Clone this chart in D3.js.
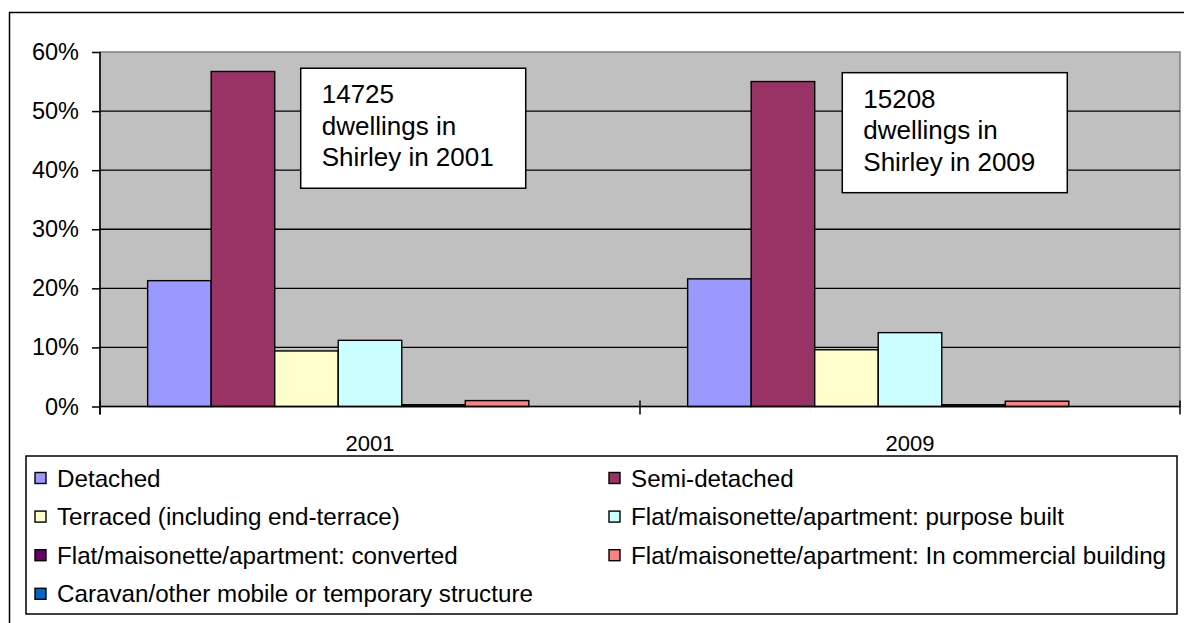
<!DOCTYPE html>
<html>
<head>
<meta charset="utf-8">
<script src="https://cdn.jsdelivr.net/npm/d3@7/dist/d3.min.js"></script>
<style>
  html, body { margin: 0; padding: 0; background: #fff; }
  svg { display: block; }
  text { font-family: "Liberation Sans", Arial, sans-serif; fill: #000; }
</style>
</head>
<body>
<svg id="chart" width="1184" height="623"></svg>
<script>
// ---- data ----
const years = ["2001", "2009"];
const seriesNames = [
  "Detached",
  "Semi-detached",
  "Terraced (including end-terrace)",
  "Flat/maisonette/apartment: purpose built",
  "Flat/maisonette/apartment: converted",
  "Flat/maisonette/apartment: In commercial building",
  "Caravan/other mobile or temporary structure"
];
const values2001 = [0.213, 0.567, 0.094, 0.112, 0.003, 0.010, 0.000];
const values2009 = [0.216, 0.550, 0.096, 0.125, 0.003, 0.009, 0.000];
const seriesColors = ["#9999FF", "#993366", "#FFFFCC", "#CCFFFF", "#660066", "#FF8080", "#0066CC"];
const yTicks = [0, 0.1, 0.2, 0.3, 0.4, 0.5, 0.6];
const annotationLines2001 = ["14725", "dwellings in", "Shirley in 2001"];
const annotationLines2009 = ["15208", "dwellings in", "Shirley in 2009"];

const valuesByYear = [values2001, values2009];
const annotations = [annotationLines2001, annotationLines2009];

// ---- layout ----
const svg = d3.select("#chart");
const plot = { left: 100, right: 1180, top: 52, bottom: 406.5 };

svg.append("rect").attr("x", 0).attr("y", 0).attr("width", 1184).attr("height", 623).attr("fill", "#fff");
// outer chart border (right and bottom edges fall outside the picture)
svg.append("rect").attr("x", 9.5).attr("y", 12.5).attr("width", 1200).attr("height", 640)
  .attr("fill", "none").attr("stroke", "#000").attr("stroke-width", 1.5);

const x0 = d3.scaleBand().domain(years).range([plot.left, plot.right]).paddingInner(0).paddingOuter(0);
const x1 = d3.scaleBand().domain(d3.range(seriesNames.length)).range([0, x0.bandwidth()])
  .paddingInner(0).paddingOuter(0.75);
const y = d3.scaleLinear().domain([0, 0.6]).range([plot.bottom, plot.top]);

// plot background
svg.append("rect").attr("x", plot.left).attr("y", plot.top)
  .attr("width", plot.right - plot.left).attr("height", plot.bottom - plot.top)
  .attr("fill", "#C0C0C0").attr("stroke", "#808080").attr("stroke-width", 1.5);

// gridlines
svg.append("g").selectAll("line").data(yTicks.filter(t => t > 0 && t < 0.6)).join("line")
  .attr("x1", plot.left).attr("x2", plot.right)
  .attr("y1", d => y(d)).attr("y2", d => y(d))
  .attr("stroke", "#000").attr("stroke-width", 1.4);

// bars
const groups = svg.append("g").selectAll("g").data(years).join("g")
  .attr("transform", d => `translate(${x0(d)},0)`);
groups.selectAll("rect").data((d, i) => valuesByYear[i].map((v, k) => ({ v, k })))
  .join("rect")
  .attr("x", d => x1(d.k))
  .attr("width", x1.bandwidth())
  .attr("y", d => y(d.v))
  .attr("height", d => y(0) - y(d.v))
  .attr("fill", d => seriesColors[d.k])
  .attr("stroke", "#000").attr("stroke-width", 1.4);

// y axis
const yAxis = d3.axisLeft(y).tickValues(yTicks).tickFormat(d3.format(".0%")).tickSize(8).tickPadding(13);
const gy = svg.append("g").attr("transform", `translate(${plot.left},0)`).call(yAxis);
gy.attr("font-size", null).attr("font-family", null);
gy.select(".domain").attr("stroke", "#000").attr("stroke-width", 1.5).attr("d", `M0,${plot.top}V${plot.bottom + 8}`);
gy.selectAll(".tick line").attr("stroke", "#000").attr("stroke-width", 1.5);
gy.selectAll(".tick text").style("font-size", "23.5px").attr("fill", "#000");

// x axis
const gx = svg.append("g").attr("transform", `translate(0,${plot.bottom})`);
gx.append("line").attr("x1", plot.left).attr("x2", plot.right).attr("y1", 0).attr("y2", 0)
  .attr("stroke", "#000").attr("stroke-width", 1.5);
const boundaries = years.map(d => x0(d)).concat([x0(years[years.length - 1]) + x0.bandwidth()]);
gx.selectAll("line.t").data(boundaries).join("line").attr("class", "t")
  .attr("x1", d => d).attr("x2", d => d).attr("y1", -6).attr("y2", 8)
  .attr("stroke", "#000").attr("stroke-width", 1.5);
gx.selectAll("text").data(years).join("text")
  .attr("x", d => x0(d) + x0.bandwidth() / 2).attr("y", 44.5)
  .attr("text-anchor", "middle").style("font-size", "22px").text(d => d);

// annotation boxes
const ann = svg.append("g").selectAll("g").data(years).join("g")
  .attr("transform", (d, i) => `translate(${x0(d) + x0.bandwidth() * (i === 0 ? 0.3717 : 0.3746)},${y(i === 0 ? 0.5725 : 0.565)})`);
ann.append("rect").attr("x", 0).attr("y", 0).attr("width", 225).attr("height", 120)
  .attr("fill", "#fff").attr("stroke", "#000").attr("stroke-width", 1.5);
ann.selectAll("text").data((d, i) => annotations[i]).join("text")
  .attr("x", 21).attr("y", (d, j) => 35 + j * 31.5)
  .style("font-size", "26px").text(d => d);

// legend
const legend = { x: 26, y: 456, w: 1151, h: 158 };
svg.append("rect").attr("x", legend.x).attr("y", legend.y).attr("width", legend.w).attr("height", legend.h)
  .attr("fill", "#fff").attr("stroke", "#000").attr("stroke-width", 1.5);
const colX = [35, 609];
const items = svg.append("g").selectAll("g").data(seriesNames).join("g")
  .attr("transform", (d, i) => `translate(${colX[i % 2]},${478 + Math.floor(i / 2) * 38.6})`);
items.append("rect").attr("x", 0).attr("y", -5.5).attr("width", 11).attr("height", 11)
  .attr("fill", (d, i) => seriesColors[i]).attr("stroke", "#000").attr("stroke-width", 1.4);
items.append("text").attr("x", 22).attr("y", 8.5).style("font-size", "24.2px").text(d => d);
</script>
</body>
</html>
